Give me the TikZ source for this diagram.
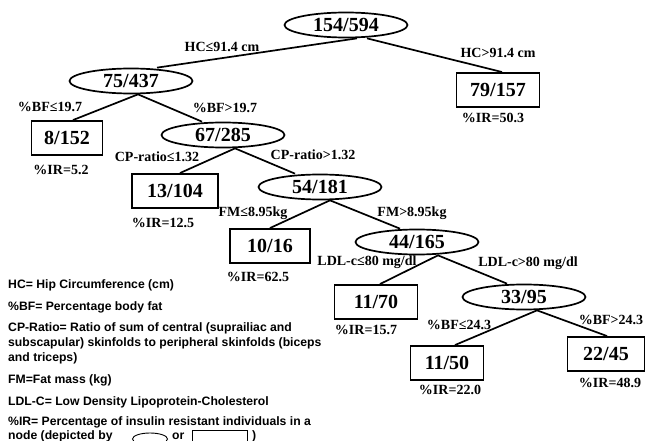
\documentclass[tikz,border=0pt]{standalone}
\usepackage{fontspec}
\setmainfont{Liberation Serif}
\newfontfamily\legfont{Liberation Sans}
\usetikzlibrary{shapes.geometric}
\tikzset{
  ell/.style={ellipse, draw, line width=1.7pt, minimum width=123pt, minimum height=25pt, inner sep=0pt,
    font=\fontsize{20}{20}\selectfont\bfseries},
  leaf/.style={rectangle, draw, line width=1.9pt, minimum height=34pt, inner sep=0pt,
    font=\fontsize{20}{20}\selectfont\bfseries},
  lab/.style={inner sep=0pt, font=\fontsize{14}{14}\selectfont\bfseries},
  leg/.style={anchor=west, inner sep=0pt, font=\legfont\fontsize{12.2}{14}\selectfont\bfseries},
  edge/.style={line width=1.7pt}
}
\begin{document}
\begin{tikzpicture}[x=1pt,y=-1pt]
\useasboundingbox (0,0) rectangle (646,441);
\clip (0,0) rectangle (646,441);
\fill[white] (0,0) rectangle (646,441);
% tree nodes
\node[ell] (root) at (346,25) {154/594};
\node[ell] (n75) at (131,81) {75/437};
\node[leaf, minimum width=83pt] (n79) at (498,90) {79/157};
\node[leaf, minimum width=71pt] (n8) at (67,138) {8/152};
\node[ell] (n67) at (223,135) {67/285};
\node[leaf, minimum width=86pt] (n13) at (175,191) {13/104};
\node[ell] (n54) at (320,187) {54/181};
\node[leaf, minimum width=80pt] (n10) at (270,246) {10/16};
\node[ell] (n44) at (417,242) {44/165};
\node[leaf, minimum width=83pt] (n1170) at (376,302) {11/70};
\node[ell] (n33) at (524,297) {33/95};
\node[leaf, minimum width=73pt] (n1150) at (447,363) {11/50};
\node[leaf, minimum width=77pt] (n2245) at (606,354) {22/45};
% connectors
\draw[edge] ([xshift=11pt]root.south) -- ([xshift=26pt]n75.north);
\draw[edge] ([xshift=21pt]root.south) -- ([xshift=4pt]n79.north);
\draw[edge] ([xshift=7pt]n75.south) -- ([xshift=6pt]n8.north);
\draw[edge] ([xshift=7pt]n75.south) -- ([xshift=-21pt]n67.north);
\draw[edge] ([xshift=12pt]n67.south) -- ([xshift=5pt]n13.north);
\draw[edge] ([xshift=12pt]n67.south) -- ([xshift=-25pt]n54.north);
\draw[edge] ([xshift=10pt]n54.south) -- (n10.north);
\draw[edge] ([xshift=10pt]n54.south) -- ([xshift=-17pt]n44.north);
\draw[edge] ([xshift=21pt]n44.south) -- ([xshift=4pt]n1170.north);
\draw[edge] ([xshift=21pt]n44.south) -- ([xshift=-17pt]n33.north);
\draw[edge] ([xshift=13pt]n33.south) -- ([xshift=8pt]n1150.north);
\draw[edge] ([xshift=13pt]n33.south) -- ([xshift=1pt]n2245.north);
% labels
\node[lab] (l1) at (222,47) {HC≤91.4 cm};
\node[lab] (l2) at (498,53) {HC>91.4 cm};
\node[lab] (i79) at (493,118) {\%IR=50.3};
\node[lab] (l3) at (50,107) {\%BF≤19.7};
\node[lab] (l4) at (225,108) {\%BF>19.7};
\node[lab] (i8) at (61,170) {\%IR=5.2};
\node[lab] (l5) at (157,157) {CP-ratio≤1.32};
\node[lab] (l6) at (313,155) {CP-ratio>1.32};
\node[lab] (i13) at (163,223) {\%IR=12.5};
\node[lab] (l7) at (253,213) {FM≤8.95kg};
\node[lab] (l8) at (412,213) {FM>8.95kg};
\node[lab] (i10) at (258,277) {\%IR=62.5};
\node[lab] (l9) at (367,262) {LDL-c≤80 mg/dl};
\node[lab] (l10) at (528,263) {LDL-c>80 mg/dl};
\node[lab] (i1170) at (366,330) {\%IR=15.7};
\node[lab] (l11) at (459,325) {\%BF≤24.3};
\node[lab] (l12) at (611,320) {\%BF>24.3};
\node[lab] (i1150) at (450,390) {\%IR=22.0};
\node[lab] (i2245) at (610,383) {\%IR=48.9};
% legend
\node[leg] (g1) at (8,285) {HC= Hip Circumference (cm)};
\node[leg] (g2) at (8,307) {\%BF= Percentage body fat};
\node[leg] (g3) at (8,328) {CP-Ratio= Ratio of sum of central (suprailiac and};
\node[leg] (g4) at (8,343) {subscapular) skinfolds to peripheral skinfolds (biceps};
\node[leg] (g5) at (8,358) {and triceps)};
\node[leg] (g6) at (8,380) {FM=Fat mass (kg)};
\node[leg] (g7) at (8,402) {LDL-C= Low Density Lipoprotein-Cholesterol};
\node[leg] (g8) at (8,422) {\%IR= Percentage of insulin resistant individuals in a};
\node[leg] (g9) at (8,436) {node (depicted by};
\node[ellipse, draw, line width=0.9pt, minimum width=35pt, minimum height=12pt, inner sep=0pt] (ge) at (150,439) {};
\node[leg] (g10) at (172,436) {or};
\node[rectangle, draw, line width=0.9pt, minimum width=55pt, minimum height=22pt, inner sep=0pt] (gb) at (219.5,441) {};
\node[leg] (g11) at (252,436) {)};
\end{tikzpicture}
\end{document}
